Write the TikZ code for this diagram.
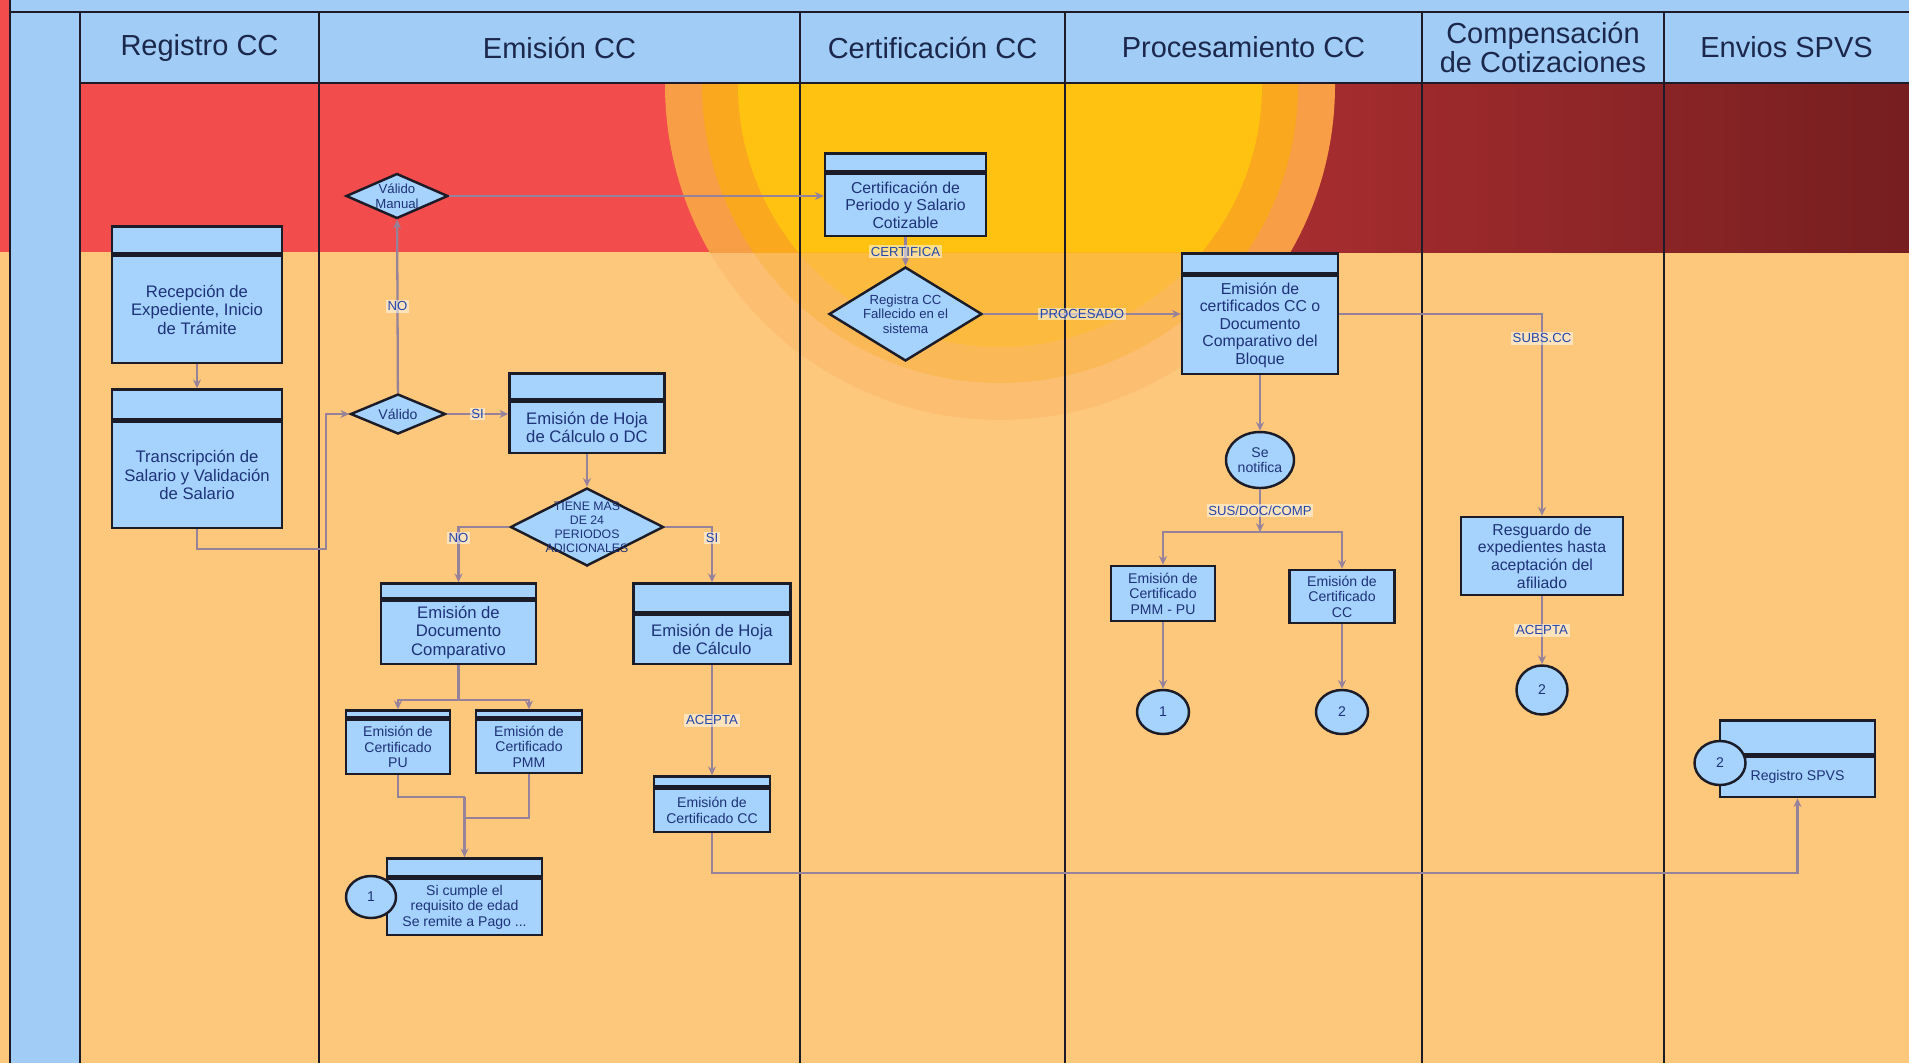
\documentclass[tikz,border=0pt]{standalone}
\usepackage{fontspec}
\setmainfont{Liberation Sans}
\usepackage{xcolor}
\usetikzlibrary{arrows.meta,positioning,shapes.geometric,calc}

\definecolor{headblue}{RGB}{160,204,246}
\definecolor{boxblue}{RGB}{166,210,254}
\definecolor{boxline}{RGB}{28,28,40}
\definecolor{boxtext}{RGB}{30,50,120}
\definecolor{bgorange}{RGB}{254,200,124}
\definecolor{bandred}{RGB}{243,76,76}
\definecolor{bandmid}{RGB}{190,52,54}
\definecolor{banddark}{RGB}{118,30,32}
\definecolor{sunout}{RGB}{247,158,70}
\definecolor{sunmid}{RGB}{250,168,30}
\definecolor{sunin}{RGB}{255,194,16}
\definecolor{flowcol}{RGB}{150,130,155}
\definecolor{lanecol}{RGB}{30,26,40}
\definecolor{lbltext}{RGB}{35,70,170}
\definecolor{headtext}{RGB}{28,40,75}

\begin{document}
\begin{tikzpicture}[
  x=0.2mm, y=-0.2mm,
  box/.style={rectangle, draw=boxline, line width=1.4pt, fill=boxblue, text=boxtext, align=center, inner sep=1pt, font=\fontsize{9.5}{10.5}\selectfont},
  smallbox/.style={box, font=\fontsize{8}{8.8}\selectfont},
  boxtop/.style={rectangle, draw=boxline, line width=1.4pt, fill=boxblue, inner sep=0pt},
  dec/.style={diamond, draw=boxline, line width=1.4pt, fill=boxblue, inner sep=0pt},
  dectext/.style={text=boxtext, align=center, inner sep=0pt, font=\fontsize{7.5}{8.2}\selectfont},
  conn/.style={ellipse, draw=boxline, line width=1.4pt, fill=boxblue, text=boxtext, inner sep=0pt, align=center, font=\fontsize{8}{8.8}\selectfont},
  arrow/.style={-{Stealth[length=5pt,width=4.5pt]}, line width=1.3pt, draw=flowcol},
  flow/.style={line width=1.3pt, draw=flowcol},
  lbl/.style={text=lbltext, fill=white, fill opacity=0.5, text opacity=1, inner sep=1pt, font=\fontsize{7.5}{8}\selectfont},
  lane/.style={draw=lanecol, line width=1.6pt},
  head/.style={text=headtext, align=center, font=\fontsize{16.5}{17}\selectfont}
]
\useasboundingbox (0,0) rectangle (1909,1063);

% Background
\fill[bgorange] (0,0) rectangle (1909,1063);
\fill[bandred] (80,83) rectangle (1001,252);
\shade[left color=bandmid, right color=banddark] (1000,83) rectangle (1909,252);

% Sun
\begin{scope}
  \clip (80,83) rectangle (1909,252);
  \fill[sunout] (1000,85) circle[radius=335];
  \fill[sunmid] (1000,85) circle[radius=298];
  \fill[sunin] (1000,85) circle[radius=262];
\end{scope}
\begin{scope}
  \clip (80,252) rectangle (1909,1063);
  \fill[sunout, fill opacity=0.2] (1000,85) circle[radius=335];
  \fill[sunmid, fill opacity=0.3] (1000,85) circle[radius=298];
  \fill[sunin, fill opacity=0.35] (1000,85) circle[radius=262];
\end{scope}

% Header row and left column
\fill[headblue] (10,0) rectangle (1909,83);
\fill[bandred] (0,0) rectangle (10,252);
\fill[headblue] (10,83) rectangle (80,1063);
\draw[lane] (10,12) -- (1909,12);
\draw[lane] (80,83) -- (1909,83);
\draw[lane, line width=1pt] (10,0) -- (10,1063);
\foreach \lx in {80,319,800,1065,1422,1664}
  \draw[lane] (\lx,12) -- (\lx,1063);

\node[head] (hReg) at (199.5,47.5) {Registro CC};
\node[head] (hEmi) at (559.5,47.5) {Emisión CC};
\node[head] (hCert) at (932.5,47.5) {Certificación CC};
\node[head] (hProc) at (1243.5,47.5) {Procesamiento CC};
\node[head] (hComp) at (1543,47.5) {Compensación\\de Cotizaciones};
\node[head] (hEnv) at (1786.5,47.5) {Envios SPVS};

% Registro CC
\node[box, minimum width=34mm, minimum height=21.4mm] (rec) at (197,309.5) {Recepción de\\Expediente, Inicio\\de Trámite};
\node[boxtop, minimum width=34mm, minimum height=5.4mm, above=0pt of rec] (recH) {};
\node[box, minimum width=34mm, minimum height=21.2mm] (trans) at (197,475) {Transcripción de\\Salario y Validación\\de Salario};
\node[boxtop, minimum width=34mm, minimum height=6mm, above=0pt of trans] (transH) {};

% Emision CC
\node[dec, minimum width=20.4mm, minimum height=9mm] (vmanual) at (397,196) {};
\node[dectext] (vmanualT) at (vmanual) {Válido\\Manual};
\node[dec, minimum width=19mm, minimum height=8mm] (valido) at (398,414) {};
\node[dectext, font=\fontsize{8}{9}\selectfont] (validoT) at (valido) {Válido};
\node[box, minimum width=31mm, minimum height=10.2mm] (hoja1) at (587,427.5) {Emisión de Hoja\\de Cálculo o DC};
\node[boxtop, minimum width=31mm, minimum height=5.2mm, above=0pt of hoja1] (hoja1H) {};
\node[dec, minimum width=30.6mm, minimum height=15.6mm] (tiene) at (587,527) {};
\node[dectext, font=\fontsize{7}{8}\selectfont] (tieneT) at (tiene) {TIENE MAS\\DE 24\\PERIODOS\\ADICIONALES};
\node[box, minimum width=31mm, minimum height=12.6mm] (doccomp) at (458.5,632.5) {Emisión de\\Documento\\Comparativo};
\node[boxtop, minimum width=31mm, minimum height=3mm, above=0pt of doccomp] (doccompH) {};
\node[box, minimum width=31.4mm, minimum height=9.8mm] (hoja2) at (712,639.5) {Emisión de Hoja\\de Cálculo};
\node[boxtop, minimum width=31.4mm, minimum height=5.8mm, above=0pt of hoja2] (hoja2H) {};
\node[smallbox, minimum width=20.8mm, minimum height=10.8mm] (certpu) at (398,747) {Emisión de\\Certificado\\PU};
\node[boxtop, minimum width=20.8mm, minimum height=1.4mm, above=0pt of certpu] (certpuH) {};
\node[smallbox, minimum width=21.2mm, minimum height=10.6mm] (certpmm) at (529,746.5) {Emisión de\\Certificado\\PMM};
\node[boxtop, minimum width=21.2mm, minimum height=1.4mm, above=0pt of certpmm] (certpmmH) {};
\node[smallbox, minimum width=31mm, minimum height=11.2mm] (final) at (464.5,907) {Si cumple el\\requisito de edad\\Se remite a Pago ...};
\node[boxtop, minimum width=31mm, minimum height=3.6mm, above=0pt of final] (finalH) {};
\node[conn, minimum width=10mm, minimum height=8.4mm] (c1a) at (371,897) {1};
\node[smallbox, minimum width=23.2mm, minimum height=8.6mm] (certcc) at (712,810.5) {Emisión de\\Certificado CC};
\node[boxtop, minimum width=23.2mm, minimum height=2mm, above=0pt of certcc] (certccH) {};

% Certificacion CC
\node[box, font=\fontsize{9}{10}\selectfont, minimum width=32.2mm, minimum height=12.4mm] (certps) at (905.5,205) {Certificación de\\Periodo y Salario\\Cotizable};
\node[boxtop, minimum width=32.2mm, minimum height=3.6mm, above=0pt of certps] (certpsH) {};
\node[dec, minimum width=30.6mm, minimum height=18.8mm] (regd) at (905.5,314) {};
\node[dectext] (regdT) at (regd) {Registra CC\\Fallecido en el\\sistema};

% Procesamiento CC
\node[box, font=\fontsize{9}{10}\selectfont, minimum width=31.2mm, minimum height=19.6mm] (emcert) at (1260,325) {Emisión de\\certificados CC o\\Documento\\Comparativo del\\Bloque};
\node[boxtop, minimum width=31.2mm, minimum height=4mm, above=0pt of emcert] (emcertH) {};
\node[conn, minimum width=13.6mm, minimum height=11.2mm] (notif) at (1260,460) {Se\\notifica};
\node[smallbox, minimum width=20.8mm, minimum height=11mm] (epmmpu) at (1163,593.5) {Emisión de\\Certificado\\PMM - PU};
\node[smallbox, minimum width=21mm, minimum height=10.6mm] (ecc2) at (1342,596.5) {Emisión de\\Certificado\\CC};
\node[conn, minimum width=10.4mm, minimum height=8.8mm] (c1b) at (1163,712) {1};
\node[conn, minimum width=10.4mm, minimum height=8.8mm] (c2b) at (1342,712) {2};

% Compensacion de Cotizaciones
\node[box, font=\fontsize{9}{10}\selectfont, minimum width=32.4mm, minimum height=15.6mm] (resg) at (1542,556) {Resguardo de\\expedientes hasta\\aceptación del\\afiliado};
\node[conn, minimum width=10.2mm, minimum height=9.8mm] (c2c) at (1542,690) {2};

% Envios SPVS
\node[smallbox, minimum width=31mm, minimum height=8mm] (spvs) at (1797.5,777) {Registro SPVS};
\node[boxtop, minimum width=31mm, minimum height=6.8mm, above=0pt of spvs] (spvsH) {};
\node[conn, minimum width=10.2mm, minimum height=8.8mm] (c2d) at (1720,763) {2};

% Arrows
\draw[arrow] (rec) -- (transH);
\coordinate (bendA) at (326,549);
\draw[arrow] (trans.south) |- (bendA) |- (valido.west);
\draw[arrow] (valido) -- node[lbl]{NO} (vmanual);
\draw[arrow] (vmanual.east) -- (vmanual.east -| certps.west);
\draw[arrow] (valido.east) -- node[lbl]{SI} (valido.east -| hoja1.west);
\draw[arrow] (hoja1) -- (tiene);
\draw[arrow] (tiene.west) -| node[lbl, pos=0.6]{NO} (doccompH);
\draw[arrow] (tiene.east) -| node[lbl, pos=0.6]{SI} (hoja2H);
\coordinate (splitA) at (458.5,700);
\draw[flow] (doccomp) -- (splitA);
\draw[arrow] (splitA) -| (certpuH);
\draw[arrow] (splitA) -| (certpmmH);
\coordinate (joinA) at (464.5,797);
\coordinate (joinB) at (464.5,818);
\draw[flow] (certpu) |- (joinA);
\draw[flow] (certpmm) |- (joinB);
\draw[arrow] (joinA) -- (finalH);
\draw[arrow] (hoja2) -- node[lbl]{ACEPTA} (certccH);
\coordinate (bendB) at (1797.5,873);
\draw[arrow] (certcc) |- (bendB) -- (spvs);
\draw[arrow] (certps) -- node[lbl]{CERTIFICA} (regd);
\draw[arrow] (regd.east) -- node[lbl]{PROCESADO} (regd.east -| emcert.west);
\draw[arrow] (regd.east -| emcert.east) -| node[lbl, pos=0.56]{SUBS.CC} (resg);
\draw[arrow] (emcert) -- (notif);
\coordinate (splitB) at (1260,532);
\draw[arrow] (notif) -- node[lbl]{SUS/DOC/COMP} (splitB);
\draw[arrow] (splitB) -| (epmmpu);
\draw[arrow] (splitB) -| (ecc2);
\draw[arrow] (epmmpu) -- (c1b);
\draw[arrow] (ecc2) -- (c2b);
\draw[arrow] (resg) -- node[lbl]{ACEPTA} (c2c);

\end{tikzpicture}
\end{document}
